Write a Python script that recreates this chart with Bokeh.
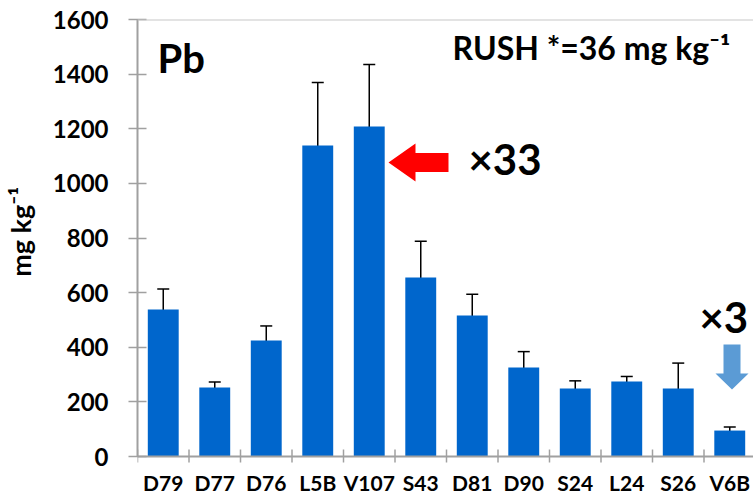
from bokeh.plotting import figure
from bokeh.models import (ColumnDataSource, Range1d, FixedTicker, Whisker, TeeHead, Span, Label)
from bokeh.core.properties import value
from bokeh.embed import file_html
from bokeh.resources import INLINE

categories = ["D79", "D77", "D76", "L5B", "V107", "S43", "D81", "D90", "S24", "L24", "S26", "V6B"]
means = [538, 253, 425, 1139, 1208, 655, 516, 326, 249, 275, 249, 95]
errors = [75, 20, 53, 230, 227, 133, 78, 58, 28, 18, 93, 13]
y_ticks = [0, 200, 400, 600, 800, 1000, 1200, 1400, 1600]

FONT = "Lato"
W, H = 753, 496
BL, BR, BT, BB = 137, 0, 19, 0
AXIS_Y = 456                      # picture row of the value 0
FW = W - BL - BR
CAT_PX = 51.5
X_END = FW / CAT_PX
Y_MAX = 1600
SY = (AXIS_Y - BT) / Y_MAX
Y_START = -(H - BB - AXIS_Y) / SY

# helpers to place decorations by picture-pixel geometry
def dx(px):
    return (px - BL) / CAT_PX
def dy(py):
    return (AXIS_Y - py) / SY

xs = [i + 0.5 for i in range(len(categories))]
bounds = list(range(0, len(categories) + 1))
src = ColumnDataSource(dict(
    x=xs, top=means, name=categories,
    upper=[m + e for m, e in zip(means, errors)],
    lower=[m - e for m, e in zip(means, errors)],
))

p = figure(width=W, height=H, output_backend="svg", toolbar_location=None,
           x_range=Range1d(0, X_END), y_range=Range1d(Y_START, Y_MAX),
           min_border_left=BL, min_border_right=BR, min_border_top=BT, min_border_bottom=BB)
p.outline_line_color = None
p.xgrid.visible = False
p.ygrid.visible = False
p.xaxis.visible = False
p.background_fill_color = "white"

p.vbar(x="x", top="top", width=0.6, source=src, fill_color="#0066CC", line_color=None)
p.add_layout(Whisker(source=src, base="x", upper="upper", lower="lower",
                     line_color="black", line_width=1.5,
                     upper_head=TeeHead(size=12, line_color="black", line_width=1.5),
                     lower_head=TeeHead(size=12, line_color="black", line_width=1.5)))

p.add_layout(Span(location=Y_MAX, dimension="width", line_color="#c8c8c8", line_width=2))

# category axis: line at 0, ticks at category boundaries, names below
AX_COL = "#a0a0a0"
p.segment(x0=[0], y0=[0], x1=[X_END], y1=[0], line_color=AX_COL, line_width=2)
p.segment(x0=bounds, y0=[dy(462)] * len(bounds), x1=bounds, y1=[dy(449)] * len(bounds),
          line_color=AX_COL, line_width=1.5)
p.text(x="x", y=dy(482), text="name", source=src, text_font=value(FONT),
       text_font_style="bold", text_font_size="21px", text_color="black",
       text_align="center", text_baseline="middle")

ya = p.yaxis[0]
ya.bounds = (0, Y_MAX)
ya.ticker = FixedTicker(ticks=y_ticks, minor_ticks=[])
ya.major_tick_in = 9
ya.major_tick_out = 9
ya.major_tick_line_color = AX_COL
ya.major_tick_line_width = 1.5
ya.axis_line_color = AX_COL
ya.axis_line_width = 2
ya.major_label_text_font = FONT
ya.major_label_text_font_style = "bold"
ya.major_label_text_font_size = "24px"
ya.major_label_text_color = "black"
ya.major_label_standoff = 20
# leading no-break spaces lift the label to the centre of the 0-1600 span
ya.axis_label = "\u00a0" * 8 + "mg kg\u207b\u00b9"
ya.axis_label_text_font = FONT
ya.axis_label_text_font_style = "bold"
ya.axis_label_text_font_size = "27px"
ya.axis_label_text_color = "black"
ya.axis_label_standoff = 13

def add_text(x, y, text, size, align="left"):
    p.add_layout(Label(x=x, y=y, text=text, text_font=FONT, text_font_style="bold",
                       text_font_size=size, text_color="black", text_align=align,
                       text_baseline="middle"))

add_text(dx(157), dy(57), "Pb", "40px")
add_text(dx(452), dy(46.5), "RUSH *=36 mg kg\u207b\u00b9", "32px")
add_text(dx(468), dy(158), "\u00d733", "42px")
add_text(dx(699), dy(316), "\u00d73", "42px")

# red left arrow
rx = [dx(v) for v in (388, 415, 415, 448, 448, 415, 415)]
ry = [dy(v) for v in (162, 143, 152.5, 152.5, 171.5, 171.5, 181)]
p.patch(rx, ry, fill_color="#FF0000", line_color=None)

# blue down arrow
bx = [dx(v) for v in (723, 740, 740, 748, 731.5, 715, 723)]
by = [dy(v) for v in (344, 344, 373, 373, 389, 373, 373)]
p.patch(bx, by, fill_color="#5B9BD5", line_color=None)

open("out.html", "w").write(file_html(p, INLINE))
